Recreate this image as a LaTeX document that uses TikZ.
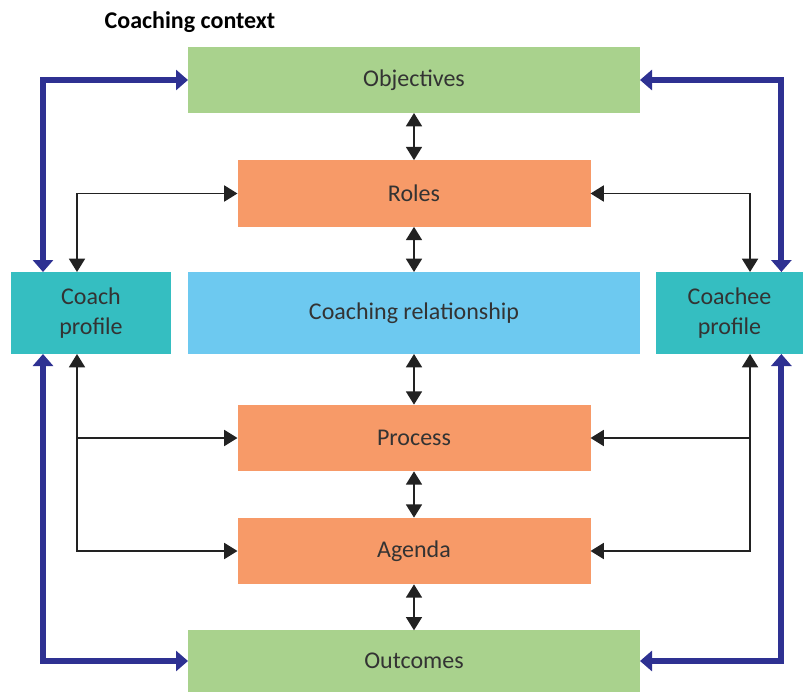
\documentclass[tikz,border=0pt]{standalone}
\usepackage{fontspec}
\setmainfont{Carlito}
\usetikzlibrary{arrows.meta}
\definecolor{boxgreen}{HTML}{A9D28D}
\definecolor{boxorange}{HTML}{F79A68}
\definecolor{boxsky}{HTML}{6DC9F0}
\definecolor{boxteal}{HTML}{35BEC1}
\definecolor{linkblue}{HTML}{2E3192}
\definecolor{linkblack}{HTML}{222222}
\definecolor{textgray}{HTML}{333333}
\tikzset{
  box/.style={rectangle, inner sep=0pt, outer sep=0pt, align=center,
    text=textgray, font=\fontsize{18pt}{22.5pt}\selectfont},
  widebox/.style={box, minimum width=339pt},
  midbox/.style={box, minimum width=264.75pt, minimum height=50pt, fill=boxorange},
  sidebox/.style={box, minimum height=61.5pt, fill=boxteal},
  thinlink/.style={draw=linkblack, line width=1.4pt,
    -{Triangle[length=10pt,width=12pt]}},
  bothlink/.style={draw=linkblack, line width=1.4pt,
    {Triangle[length=10pt,width=12pt]}-{Triangle[length=10pt,width=12pt]}},
  thicklink/.style={draw=linkblue, line width=4.5pt,
    {Triangle[length=9pt,width=15pt]}-{Triangle[length=9pt,width=15pt]}},
}
\begin{document}
\begin{tikzpicture}[x=0.75pt,y=-0.75pt]
  \useasboundingbox (0,0) rectangle (804,692);

  \node[anchor=base west, text=black, font=\fontsize{18pt}{21pt}\selectfont\bfseries]
    (title) at (100,29) {Coaching context};

  % central column
  \node[widebox, minimum height=49.5pt, fill=boxgreen] (obj) at (414,80) {Objectives};
  \node[midbox] (roles) at (414,193.5) {Roles};
  \node[widebox, minimum height=61.5pt, fill=boxsky] (rel) at (414,313) {Coaching relationship};
  \node[midbox] (proc) at (414,438) {Process};
  \node[midbox] (agenda) at (414,551) {Agenda};
  \node[widebox, minimum height=46pt, fill=boxgreen] (out) at (414,661) {Outcomes};

  % profiles on either side
  \node[sidebox, minimum width=120pt] (coach) at (91,313) {Coach\\profile};
  \node[sidebox, minimum width=110.25pt] (coachee) at (729.5,313) {Coachee\\profile};

  % links down the central column
  \draw[bothlink] (obj.south) -- (roles.north);
  \draw[bothlink] (roles.south) -- (rel.north);
  \draw[bothlink] (rel.south) -- (proc.north);
  \draw[bothlink] (proc.south) -- (agenda.north);
  \draw[bothlink] (agenda.south) -- (out.north);

  % coach profile links
  \draw[bothlink] ([xshift=-10.5pt]coach.north) |- (roles.west);
  \draw[bothlink] ([xshift=-10.5pt]coach.south) |- (agenda.west);
  \draw[thinlink] ([xshift=-10.5pt]coach.south |- proc.west) -- (proc.west);

  % coachee profile links
  \draw[bothlink] ([xshift=15.4pt]coachee.north) |- (roles.east);
  \draw[bothlink] ([xshift=15.4pt]coachee.south) |- (agenda.east);
  \draw[thinlink] ([xshift=15.4pt]coachee.south |- proc.east) -- (proc.east);

  % context loops
  \draw[thicklink] ([xshift=-36pt]coach.north) |- (obj.west);
  \draw[thicklink] ([xshift=38.9pt]coachee.north) |- (obj.east);
  \draw[thicklink] ([xshift=-36pt]coach.south) |- (out.west);
  \draw[thicklink] ([xshift=38.9pt]coachee.south) |- (out.east);
\end{tikzpicture}
\end{document}
